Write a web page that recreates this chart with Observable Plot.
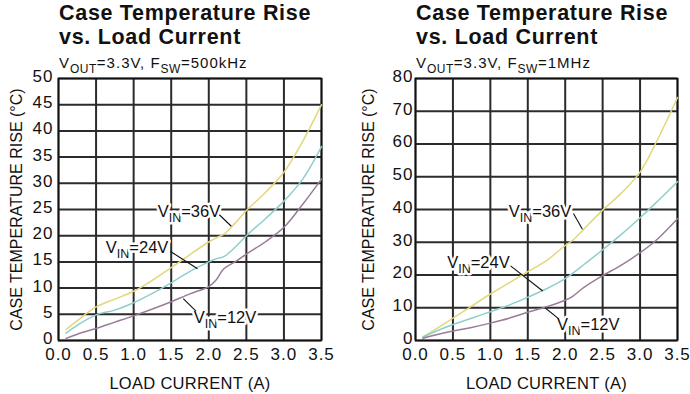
<!DOCTYPE html>
<html><head><meta charset="utf-8">
<script src="https://cdn.jsdelivr.net/npm/d3@7"></script>
<script src="https://cdn.jsdelivr.net/npm/@observablehq/plot@0.6"></script>
<style>
body{margin:0;background:#fff;font-family:"Liberation Sans",Arial,sans-serif;color:#111}
#wrap{position:relative;width:690px;height:394px;overflow:hidden;background:#fff}
.panel{position:absolute;top:0;width:345px;height:394px}
.panel svg{position:absolute;left:0;top:0}
.title{position:absolute;top:1px;font-weight:bold;font-size:21.5px;line-height:24px;letter-spacing:0.7px;white-space:nowrap;z-index:2}
.sub{position:absolute;top:54px;font-size:15px;line-height:17px;letter-spacing:1px;white-space:nowrap;z-index:2}
.sub .s{font-size:12px;position:relative;top:5px;letter-spacing:0.5px}
g[aria-label="x-axis tick label"],g[aria-label="y-axis tick label"]{font-size:17px;letter-spacing:1px}
g[aria-label="x-axis label"]{font-size:16.5px;letter-spacing:0.3px}
g[aria-label="y-axis label"]{font-size:16px}
</style>
</head><body>
<div id="wrap"></div>
<script>
// ---- data ----
const titleLines = ["Case Temperature Rise", "vs. Load Current"];
const subtitle500 = ["V", "OUT", "=3.3V, F", "SW", "=500kHz"];
const subtitle1M = ["V", "OUT", "=3.3V, F", "SW", "=1MHz"];
const xLabel = "LOAD CURRENT (A)";
const yLabel = "CASE TEMPERATURE RISE (°C)";
const xTicks = [0, 0.5, 1.0, 1.5, 2.0, 2.5, 3.0, 3.5];
const yTicks500 = [0, 5, 10, 15, 20, 25, 30, 35, 40, 45, 50];
const yTicks1M = [0, 10, 20, 30, 40, 50, 60, 70, 80];

// 500 kHz chart
const current500 = [0.1, 0.25, 0.5, 0.75, 1.0, 1.25, 1.5, 1.75, 2.0, 2.1, 2.2, 2.35, 2.5, 2.75, 3.0, 3.25, 3.5];
const rise500_36 = [2.1, 3.8, 6.4, 7.9, 9.4, 11.5, 13.9, 16.4, 18.8, 19.6, 20.3, 22.4, 24.8, 28.2, 32.1, 38.0, 45.0];
const rise500_24 = [1.4, 2.9, 4.9, 5.8, 7.2, 9.0, 11.0, 13.2, 15.0, 15.6, 16.0, 17.8, 20.0, 23.2, 26.6, 30.8, 37.0];
const rise500_12 = [0.4, 1.2, 2.3, 3.5, 4.7, 6.0, 7.4, 8.9, 10.3, 11.6, 13.7, 15.0, 16.5, 18.8, 21.6, 26.0, 30.8];

// 1 MHz chart
const current1M = [0.1, 0.25, 0.5, 0.75, 1.0, 1.25, 1.5, 1.75, 2.0, 2.1, 2.25, 2.5, 2.75, 3.0, 3.2, 3.5];
const rise1M_36 = [1.2, 3.2, 6.8, 10.5, 14.2, 17.6, 21.0, 24.4, 29.0, 30.6, 34.0, 39.8, 45.0, 51.4, 59.8, 74.2];
const rise1M_24 = [1.0, 2.6, 4.9, 6.8, 8.8, 10.8, 13.2, 15.8, 18.9, 20.5, 23.2, 27.7, 32.4, 37.5, 41.8, 48.5];
const rise1M_12 = [0.7, 1.6, 2.9, 4.0, 5.3, 6.8, 8.6, 10.3, 12.3, 13.5, 16.2, 19.8, 23.0, 26.8, 30.3, 37.2];

// series annotations (V|IN| = subscript)
const labelText = ["V|IN|=36V", "V|IN|=24V", "V|IN|=12V"];
const labelX500 = [1.32, 0.63, 1.80];
const labelY500 = [24.5, 17.7, 4.4];
const leaderX1_500 = [2.14, 1.49, 1.83];
const leaderY1_500 = [24.0, 17.0, 5.6];
const leaderX2_500 = [2.30, 1.85, 1.66];
const leaderY2_500 = [21.8, 13.7, 8.0];

const labelX1M = [1.246, 0.423, 1.89];
const labelY1M = [39.4, 23.9, 4.7];
const leaderX1_1M = [2.11, 1.27, 1.91];
const leaderY1_1M = [38.8, 22.8, 6.7];
const leaderX2_1M = [2.23, 1.70, 1.73];
const leaderY2_1M = [34.0, 15.1, 10.0];

const seriesColors = ["#e3d77c", "#8dcfcd", "#9a7c99"];

// ---- drawing ----
const FONT = '"Liberation Sans", Arial, sans-serif';

function subscriptify(svg) {
  for (const t of svg.querySelectorAll("text")) {
    if (!t.textContent.includes("|")) continue;
    const parts = t.textContent.split("|");
    t.textContent = "";
    const mk = (s, attrs) => {
      const ts = document.createElementNS("http://www.w3.org/2000/svg", "tspan");
      ts.textContent = s;
      for (const k in attrs) ts.setAttribute(k, attrs[k]);
      t.appendChild(ts);
    };
    mk(parts[0], {});
    mk(parts[1], {dy: 5, "font-size": "12.5px"});
    mk(parts[2], {dy: -5});
  }
}

function makePanel(o) {
  const panel = document.createElement("div");
  panel.className = "panel";
  panel.style.left = o.left + "px";

  const lines = [o.ys[0], o.ys[1], o.ys[2]].map(ys => o.xs.map((x, i) => ({x, y: ys[i]})));
  const labels = labelText.map((t, i) => ({text: t, x: o.lx[i], y: o.ly[i]}));
  const leaders = o.l1x.map((v, i) => ({x1: v, y1: o.l1y[i], x2: o.l2x[i], y2: o.l2y[i]}));

  const plot = Plot.plot({
    width: 345, height: 394,
    marginTop: 78, marginBottom: 54, marginLeft: o.ml, marginRight: o.mr,
    style: {fontFamily: FONT, fontSize: "16px", color: "#111", background: "transparent", overflow: "visible"},
    x: {domain: [0, 3.5]},
    y: {domain: o.yDomain},
    marks: [
      Plot.gridX(xTicks, {stroke: "#2b2b2b", strokeOpacity: 1, strokeWidth: 2}),
      Plot.gridY(o.yTicks, {stroke: "#2b2b2b", strokeOpacity: 1, strokeWidth: 2}),
      Plot.frame({stroke: "#111", strokeWidth: 1.6}),
      ...lines.map((d, i) => Plot.line(d, {x: "x", y: "y", stroke: seriesColors[i], strokeWidth: 1.5, curve: "catmull-rom"})),
      Plot.text(labels, {x: "x", y: "y", text: "text", textAnchor: "start", lineAnchor: "middle", fontSize: 16.5, fill: "#111", stroke: "white", strokeWidth: 5}),
      Plot.link(leaders, {x1: "x1", y1: "y1", x2: "x2", y2: "y2", stroke: "#111", strokeWidth: 1.1}),
      Plot.axisX(xTicks, {tickFormat: d3.format(".1f"), tickSize: 0, tickPadding: 7, label: xLabel, labelAnchor: "center", labelOffset: 48, labelArrow: "none"}),
      Plot.axisY(o.yTicks, {tickSize: 0, tickPadding: o.tp, dy: -2, label: yLabel, labelAnchor: "center", labelOffset: o.lo, labelArrow: "none"})
    ]
  });
  subscriptify(plot);
  panel.appendChild(plot);

  const title = document.createElement("div");
  title.className = "title";
  title.style.left = (o.ml + 1) + "px";
  title.innerHTML = titleLines.join("<br>");
  panel.appendChild(title);

  const sub = document.createElement("div");
  sub.className = "sub";
  sub.style.left = (o.ml + 1) + "px";
  o.sub.forEach((s, i) => {
    const sp = document.createElement("span");
    if (i % 2 === 1) sp.className = "s";
    sp.textContent = s;
    sub.appendChild(sp);
  });
  panel.appendChild(sub);

  document.getElementById("wrap").appendChild(panel);
}

makePanel({left: 0, ml: 58, mr: 24, tp: 5, lo: 48, yDomain: [0, 50], yTicks: yTicks500,
  xs: current500, ys: [rise500_36, rise500_24, rise500_12], sub: subtitle500,
  lx: labelX500, ly: labelY500, l1x: leaderX1_500, l1y: leaderY1_500, l2x: leaderX2_500, l2y: leaderY2_500});
makePanel({left: 345, ml: 70, mr: 13, tp: 2, lo: 53, yDomain: [0, 80], yTicks: yTicks1M,
  xs: current1M, ys: [rise1M_36, rise1M_24, rise1M_12], sub: subtitle1M,
  lx: labelX1M, ly: labelY1M, l1x: leaderX1_1M, l1y: leaderY1_1M, l2x: leaderX2_1M, l2y: leaderY2_1M});
</script>
</body></html>
